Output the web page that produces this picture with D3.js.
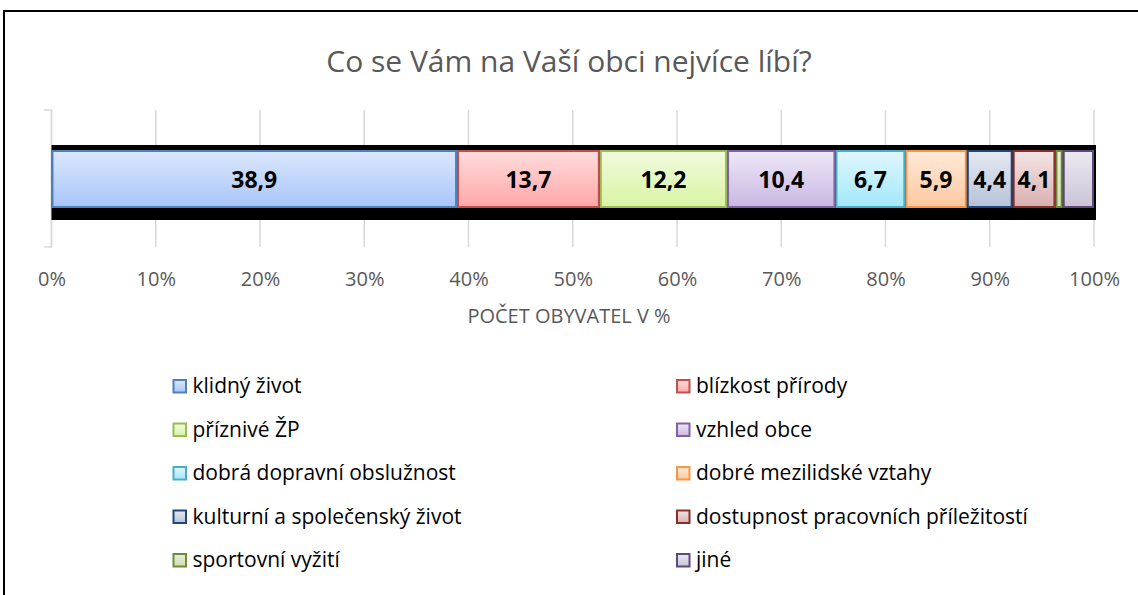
<!DOCTYPE html>
<html>
<head>
<meta charset="utf-8">
<script src="https://cdn.jsdelivr.net/npm/d3@7"></script>
<style>
  body { margin: 0; background: #fff; }
  svg { display: block; font-family: "Open Sans", "Noto Sans", sans-serif; }
</style>
</head>
<body>
<div id="chart"></div>
<script>
const categories = [
    "klidný život", "blízkost přírody", "příznivé ŽP", "vzhled obce",
    "dobrá dopravní obslužnost", "dobré mezilidské vztahy",
    "kulturní a společenský život", "dostupnost pracovních příležitostí",
    "sportovní vyžití", "jiné"
];
const values = [38.9, 13.7, 12.2, 10.4, 6.7, 5.9, 4.4, 4.1, 0.7, 3.0];
const tickValues = [0, 10, 20, 30, 40, 50, 60, 70, 80, 90, 100];
const topColors = ["#dce7fc", "#ffdcdc", "#f1fadd", "#eee8f7", "#e0f7fe", "#ffe9d8", "#e6eaf3", "#f4e5e5", "#e9f0dc", "#eceaf1"];
const bottomColors = ["#a8c5f9", "#ffa7a7", "#d9f4a4", "#c9b7e3", "#a2e8fb", "#fdc8a0", "#b6c2d8", "#d9b0b0", "#cfe0b0", "#cac4d5"];
const strokeColors = ["#4f81bd", "#c0504d", "#9bbb59", "#8064a2", "#4bacc6", "#f79646", "#1f497d", "#8b2f2c", "#6e8a3a", "#5f497a"];

const width = 1138, height = 595;
const svg = d3.select("#chart").append("svg").attr("width", width).attr("height", height);

// outer border (right/bottom fall outside the picture)
svg.append("path")
    .attr("d", `M4,596 V11 H1140`)
    .attr("fill", "none").attr("stroke", "#000").attr("stroke-width", 2);

svg.append("text")
    .attr("x", 569).attr("y", 72)
    .attr("text-anchor", "middle")
    .attr("font-size", 30).attr("fill", "#595959")
    .text("Co se Vám na Vaší obci nejvíce líbí?");

const x = d3.scaleLinear().domain([0, 100]).range([51.5, 1094]);

// gridlines
svg.append("g").selectAll("line").data(tickValues).join("line")
    .attr("x1", d => x(d)).attr("x2", d => x(d))
    .attr("y1", 110).attr("y2", 247)
    .attr("stroke", "#d9d9d9").attr("stroke-width", 1.5);

// category axis bracket
svg.append("path")
    .attr("d", `M44,110 H${x(0)} V247 H44`)
    .attr("fill", "none").attr("stroke", "#d9d9d9").attr("stroke-width", 1.5);

// x axis labels
const xAxis = d3.axisBottom(x).tickValues(tickValues).tickSize(0).tickPadding(0).tickFormat(d => d + "%");
const gx = svg.append("g").attr("transform", "translate(0,286)").call(xAxis);
gx.select(".domain").remove();
gx.selectAll("text").attr("dy", 0).attr("y", 0)
    .attr("font-size", 20).attr("fill", "#595959").attr("font-family", "Open Sans, sans-serif");

svg.append("text")
    .attr("x", 569).attr("y", 323)
    .attr("text-anchor", "middle")
    .attr("font-size", 20).attr("fill", "#595959")
    .text("POČET OBYVATEL V %");

// gradients
const defs = svg.append("defs");
categories.forEach((c, i) => {
    const g = defs.append("linearGradient").attr("id", "grad" + i)
        .attr("x1", 0).attr("y1", 0).attr("x2", 0).attr("y2", 1);
    g.append("stop").attr("offset", "0%").attr("stop-color", topColors[i]);
    g.append("stop").attr("offset", "100%").attr("stop-color", bottomColors[i]);
});

// stacked data
let acc = 0;
const stacked = values.map((v, i) => {
    const s = { name: categories[i], value: v, x0: acc, x1: acc + v, i };
    acc += v;
    return s;
});

// black shadow band
svg.append("rect")
    .attr("x", x(0)).attr("y", 145)
    .attr("width", x(acc) - x(0) + 2).attr("height", 75)
    .attr("fill", "#000");

svg.append("g").selectAll("rect").data(stacked).join("rect")
    .attr("x", d => x(d.x0) + 1)
    .attr("y", 151)
    .attr("width", d => Math.max(x(d.x1) - x(d.x0) - 2, 1))
    .attr("height", 56)
    .attr("fill", d => `url(#grad${d.i})`)
    .attr("stroke", d => strokeColors[d.i])
    .attr("stroke-width", 2);

svg.append("g").selectAll("text").data(stacked.filter(d => d.value >= 4)).join("text")
    .attr("x", d => x((d.x0 + d.x1) / 2))
    .attr("y", 188)
    .attr("text-anchor", "middle")
    .attr("font-size", 23).attr("font-weight", "bold").attr("fill", "#000")
    .text(d => d3.format(".1f")(d.value).replace(".", ","));

// legend
const legend = svg.append("g").selectAll("g").data(categories).join("g")
    .attr("transform", (d, i) => `translate(${i % 2 === 0 ? 173.5 : 677},${393 + Math.floor(i / 2) * 43.5})`);
legend.append("rect")
    .attr("x", 0).attr("y", -13).attr("width", 12.5).attr("height", 12.5)
    .attr("fill", (d, i) => `url(#grad${i})`)
    .attr("stroke", (d, i) => strokeColors[i]).attr("stroke-width", 2);
legend.append("text")
    .attr("x", 19).attr("y", 0)
    .attr("font-size", 21).attr("fill", "#000")
    .text(d => d);
</script>
</body>
</html>
